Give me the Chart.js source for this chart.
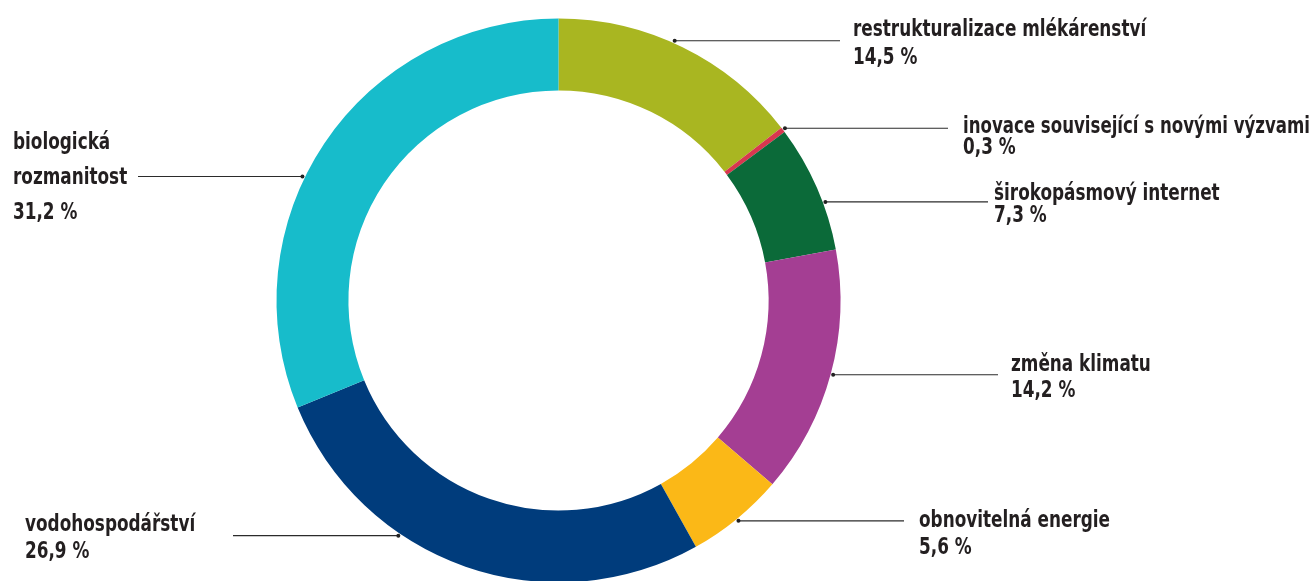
<!DOCTYPE html>
<html>
<head>
<meta charset="utf-8">
<script src="https://cdn.jsdelivr.net/npm/chart.js@4/dist/chart.umd.min.js"></script>
<style>
  html, body { margin: 0; padding: 0; background: #fff; overflow: hidden; }
  #wrap { width: 1316px; height: 601px; }
</style>
</head>
<body>
<div id="wrap"><canvas id="donut" width="1316" height="601"></canvas></div>
<script>
// categories (clockwise from 12 o'clock)
var categories = [
  "restrukturalizace mlékárenství",
  "inovace související s novými výzvami",
  "širokopásmový internet",
  "změna klimatu",
  "obnovitelná energie",
  "vodohospodářství",
  "biologická\nrozmanitost"
];
// share in %
var shares = [14.5, 0.3, 7.3, 14.2, 5.6, 26.9, 31.2];
var colors = ["#a9b621", "#d8374f", "#0b6a39", "#a43e93", "#fbb817", "#003c7c", "#17bccb"];

// label placement: angle shift (deg) for the leader dot, text x, end of leader line,
// first baseline relative to the leader line, line height
var labelLayout = [
  { shift: -2, textX: 853, lineX: 840, dy: -5, lh: 28 },
  { shift: 0, textX: 963, lineX: 948, dy: 5, lh: 21 },
  { shift: 3.3, textX: 994, lineX: 988, dy: -2, lh: 22 },
  { shift: 0, textX: 1011, lineX: 998, dy: -4, lh: 26 },
  { shift: 0, textX: 919, lineX: 904, dy: 6, lh: 27 },
  { shift: 15, textX: 25, lineX: 233, dy: -5, lh: 27 },
  { shift: -8, textX: 13, lineX: 138, dy: -27, lh: 35 }
];

var labelFont = 'bold 23px "DejaVu Sans Condensed", "DejaVu Sans", sans-serif';
var squeeze = 0.815; // horizontal squeeze to get a narrow, condensed look

function pct(v) {
  return v.toFixed(1).replace(".", ",") + " %";
}

var leaderLabels = {
  id: "leaderLabels",
  afterDraw: function (chart) {
    var ctx = chart.ctx;
    var meta = chart.getDatasetMeta(0);
    meta.data.forEach(function (arc, i) {
      var p = arc.getProps(["x", "y", "startAngle", "endAngle", "outerRadius"], true);
      var lay = labelLayout[i];
      var a = (p.startAngle + p.endAngle) / 2 + lay.shift * Math.PI / 180;
      var r = p.outerRadius + 2.5;
      var dx = p.x + Math.cos(a) * r;
      var dy = p.y + Math.sin(a) * r;
      ctx.save();
      // leader line
      ctx.strokeStyle = "#2b2b2b";
      ctx.lineWidth = 1.1;
      ctx.beginPath();
      ctx.moveTo(dx, dy);
      ctx.lineTo(lay.lineX, dy);
      ctx.stroke();
      ctx.fillStyle = "#222";
      ctx.beginPath();
      ctx.arc(dx, dy, 2, 0, Math.PI * 2);
      ctx.fill();
      // text
      var lines = categories[i].split("\n").concat([pct(shares[i])]);
      var maxW = chart.width - lay.textX - 6;
      ctx.font = labelFont;
      ctx.textBaseline = "alphabetic";
      ctx.textAlign = "left";
      ctx.fillStyle = "#231f20";
      lines.forEach(function (t, k) {
        ctx.save();
        ctx.translate(lay.textX, dy + lay.dy + k * lay.lh);
        ctx.scale(squeeze, 1);
        ctx.fillText(t, 0, 0, maxW / squeeze);
        ctx.restore();
      });
      ctx.restore();
    });
  }
};

var ctx = document.getElementById("donut").getContext("2d");
var donut = new Chart(ctx, {
  type: "doughnut",
  data: {
    labels: categories,
    datasets: [
      {
        data: shares,
        backgroundColor: colors,
        borderWidth: 0
      }
    ]
  },
  options: {
    responsive: false,
    animation: false,
    radius: 282,
    cutout: "74.5%",
    rotation: 0,
    layout: { padding: { left: 0, right: 199, top: 0, bottom: 0 } },
    plugins: {
      legend: { display: false },
      tooltip: { enabled: false }
    }
  },
  plugins: [leaderLabels]
});
</script>
</body>
</html>
